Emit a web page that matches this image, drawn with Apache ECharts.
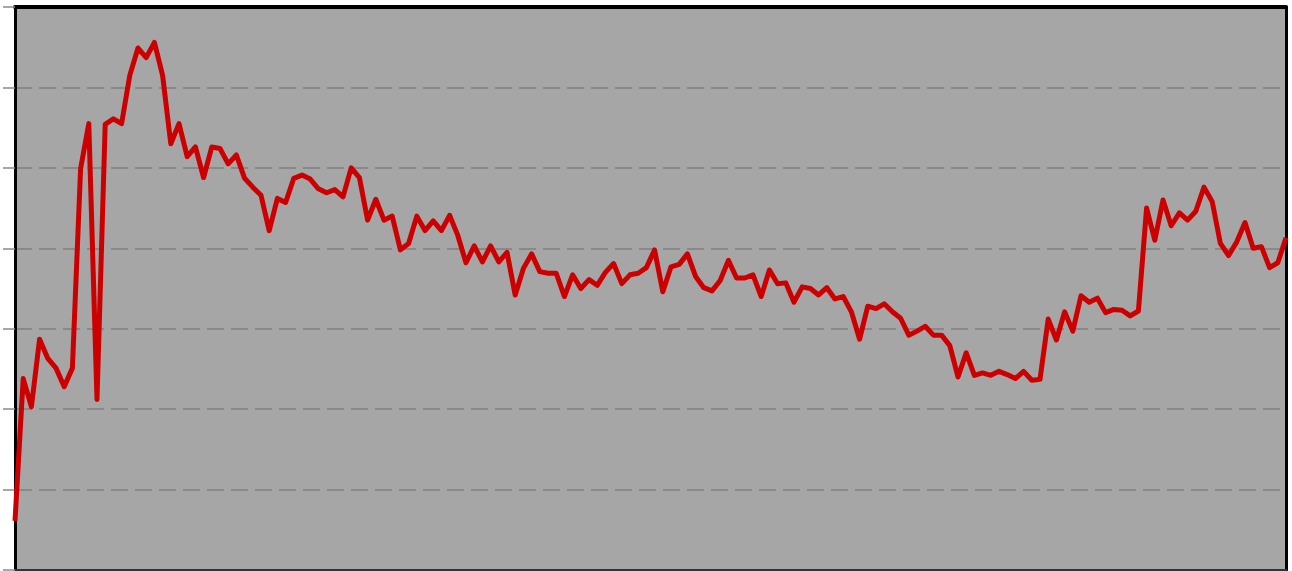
<!DOCTYPE html>
<html>
<head>
<meta charset="utf-8">
<script src="https://cdn.jsdelivr.net/npm/echarts@6/dist/echarts.min.js"></script>
<style>
html,body{margin:0;padding:0;background:#fff;}
#chart{width:1292px;height:571px;}
</style>
</head>
<body>
<div id="chart"></div>
<script>
const values = [
  0.61, 2.38, 2.03, 2.87, 2.63, 2.51, 2.28, 2.51, 4.99, 5.55,
  2.12, 5.54, 5.61, 5.55, 6.15, 6.49, 6.37, 6.56, 6.15, 5.30,
  5.55, 5.14, 5.26, 4.88, 5.26, 5.24, 5.05, 5.16, 4.87, 4.76,
  4.66,
  4.22, 4.62, 4.57, 4.87, 4.91, 4.86, 4.74, 4.69, 4.73, 4.64,
  5.00, 4.88, 4.35, 4.61, 4.35, 4.40, 3.98, 4.06, 4.40, 4.22,
  4.34, 4.22, 4.41, 4.16, 3.82, 4.03, 3.83, 4.03, 3.83, 3.95,
  3.42, 3.75,
  3.93, 3.71, 3.69, 3.69, 3.40, 3.67, 3.50, 3.61, 3.54, 3.70,
  3.81, 3.56, 3.67, 3.69, 3.76, 3.98, 3.46, 3.77, 3.80, 3.93,
  3.65, 3.51, 3.47, 3.60, 3.85, 3.63, 3.63, 3.67, 3.40, 3.73,
  3.56,
  3.57, 3.33, 3.52, 3.50, 3.42, 3.51, 3.37, 3.40, 3.21, 2.87,
  3.28, 3.25, 3.31, 3.21, 3.13, 2.92, 2.97, 3.03, 2.92, 2.92,
  2.79, 2.40, 2.70, 2.42, 2.45, 2.42, 2.47, 2.43, 2.38, 2.47,
  2.36, 2.37,
  3.12, 2.86, 3.21, 2.97, 3.41, 3.33, 3.38, 3.20, 3.24, 3.23,
  3.16, 3.22,
  4.50, 4.10, 4.60, 4.28, 4.44, 4.35, 4.46, 4.76, 4.58, 4.06,
  3.91, 4.08, 4.32, 4.00, 4.02, 3.76, 3.82, 4.13
];
const categories = values.map((_, i) => String(i + 1));
const yTicks = [0, 1, 2, 3, 4, 5, 6, 7];

const chart = echarts.init(document.getElementById('chart'));
chart.setOption({
  animation: false,
  backgroundColor: '#ffffff',
  grid: {
    left: 15, right: 6, top: 7, bottom: 1,
    show: true,
    backgroundColor: '#a6a6a6',
    borderColor: '#000000',
    borderWidth: 0
  },
  xAxis: [{
    type: 'category',
    data: categories,
    boundaryGap: false,
    position: 'bottom',
    axisLine: { show: true, onZero: false, lineStyle: { color: '#333', width: 2 } },
    axisTick: { show: false },
    axisLabel: { show: false },
    splitLine: { show: false }
  }, {
    type: 'category',
    data: categories,
    boundaryGap: false,
    position: 'top',
    axisLine: { show: true, onZero: false, lineStyle: { color: '#000', width: 4 } },
    axisTick: { show: false },
    axisLabel: { show: false },
    splitLine: { show: false }
  }],
  yAxis: [{
    type: 'value',
    min: yTicks[0],
    max: yTicks[yTicks.length - 1],
    interval: 1,
    position: 'left',
    axisLine: { show: true, onZero: false, lineStyle: { color: '#000', width: 3 } },
    axisTick: { show: true, length: 12, lineStyle: { color: '#8a8a8a', width: 1.5 } },
    axisLabel: { show: false },
    splitLine: {
      show: true,
      showMinLine: false,
      showMaxLine: false,
      lineStyle: { color: '#808080', width: 1.5, type: [17, 7] }
    }
  }, {
    type: 'value',
    min: yTicks[0],
    max: yTicks[yTicks.length - 1],
    interval: 1,
    position: 'right',
    axisLine: { show: true, onZero: false, lineStyle: { color: '#000', width: 3 } },
    axisTick: { show: false },
    axisLabel: { show: false },
    splitLine: { show: false }
  }],
  series: [{
    type: 'line',
    data: values,
    symbol: 'none',
    lineStyle: { color: '#cc0000', width: 5, join: 'round' },
    z: 3
  }]
});
</script>
</body>
</html>
